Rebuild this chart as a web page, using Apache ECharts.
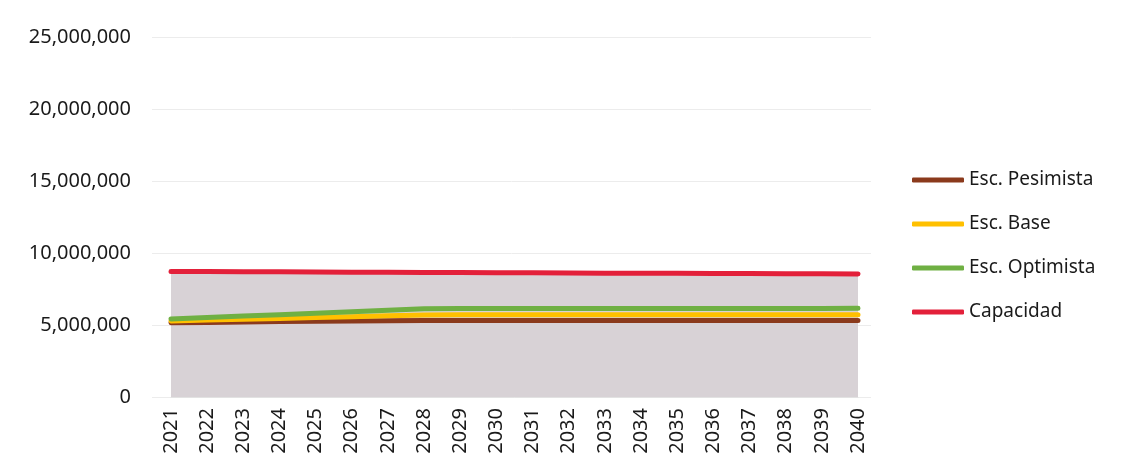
<!DOCTYPE html>
<html>
<head>
<meta charset="utf-8">
<script src="https://cdn.jsdelivr.net/npm/echarts@6/dist/echarts.min.js"></script>
<style>
html,body{margin:0;padding:0;background:#fff;}
#chart{width:1123px;height:474px;}
</style>
</head>
<body>
<div id="chart"></div>
<script>
const years = ['2021','2022','2023','2024','2025','2026','2027','2028','2029','2030','2031','2032','2033','2034','2035','2036','2037','2038','2039','2040'];
const pesimista = [5150000,5180000,5210000,5240000,5260000,5280000,5300000,5310000,5310000,5310000,5310000,5310000,5310000,5310000,5310000,5310000,5310000,5310000,5310000,5310000];
const base = [5280000,5340000,5400000,5460000,5520000,5580000,5640000,5700000,5710000,5710000,5710000,5710000,5710000,5710000,5710000,5710000,5710000,5710000,5710000,5710000];
const optimista = [5420000,5520000,5620000,5720000,5820000,5920000,6020000,6120000,6140000,6150000,6150000,6150000,6150000,6150000,6150000,6150000,6150000,6150000,6150000,6160000];
const capacidad = [8720000,8710000,8700000,8690000,8680000,8670000,8660000,8650000,8640000,8630000,8620000,8610000,8600000,8600000,8590000,8580000,8570000,8560000,8560000,8550000];
const seriesNames = ['Esc. Pesimista','Esc. Base','Esc. Optimista','Capacidad'];

const chart = echarts.init(document.getElementById('chart'));
const font = '"Noto Sans", "Open Sans", sans-serif';
chart.setOption({
  animation: false,
  textStyle: {fontFamily: font},
  grid: [
    {left: 171, right: 265, top: 37, bottom: 77},
    {left: 152, right: 252, top: 37, bottom: 77}
  ],
  legend: {
    orient: 'vertical', left: 907, top: 164,
    itemWidth: 52, itemHeight: 5, itemGap: 22,
    icon: 'roundRect',
    data: seriesNames,
    textStyle: {fontFamily: font, fontSize: 19, lineHeight: 22, color: '#1a1a1a'}
  },
  xAxis: [{
    type: 'category', data: years, boundaryGap: false, gridIndex: 0,
    axisLine: {show: true, lineStyle: {color: '#e2e2e2'}},
    axisTick: {show: false},
    axisLabel: {rotate: 90, fontSize: 20, color: '#1a1a1a', margin: 11, fontFamily: font, interval: 0}
  }, {
    type: 'value', gridIndex: 1, min: 0, max: 1, show: false
  }],
  yAxis: [{
    type: 'value', min: 0, max: 25000000, interval: 5000000, gridIndex: 0,
    axisLine: {show: false}, axisTick: {show: false},
    splitLine: {show: false},
    axisLabel: {fontSize: 20, color: '#1a1a1a', margin: 40, fontFamily: font,
      formatter: v => v.toLocaleString('en-US')}
  }, {
    type: 'value', min: 0, max: 25000000, interval: 5000000, gridIndex: 1,
    axisLine: {show: false}, axisTick: {show: false}, axisLabel: {show: false},
    splitLine: {lineStyle: {color: '#ececec'}}
  }],
  series: [
    {name: seriesNames[0], type: 'line', data: pesimista, symbol: 'none', z: 4,
     lineStyle: {width: 5, color: '#8b3a1c', cap: 'round'}, itemStyle: {color: '#8b3a1c'}},
    {name: seriesNames[1], type: 'line', data: base, symbol: 'none', z: 5,
     lineStyle: {width: 5, color: '#ffc000', cap: 'round'}, itemStyle: {color: '#ffc000'}},
    {name: seriesNames[2], type: 'line', data: optimista, symbol: 'none', z: 6,
     lineStyle: {width: 5, color: '#6fb043', cap: 'round'}, itemStyle: {color: '#6fb043'}},
    {name: seriesNames[3], type: 'line', data: capacidad, symbol: 'none', z: 2,
     lineStyle: {width: 5, color: '#e3203a', cap: 'round'}, itemStyle: {color: '#e3203a'},
     areaStyle: {color: '#d8d2d6', opacity: 1}}
  ]
});
</script>
</body>
</html>
